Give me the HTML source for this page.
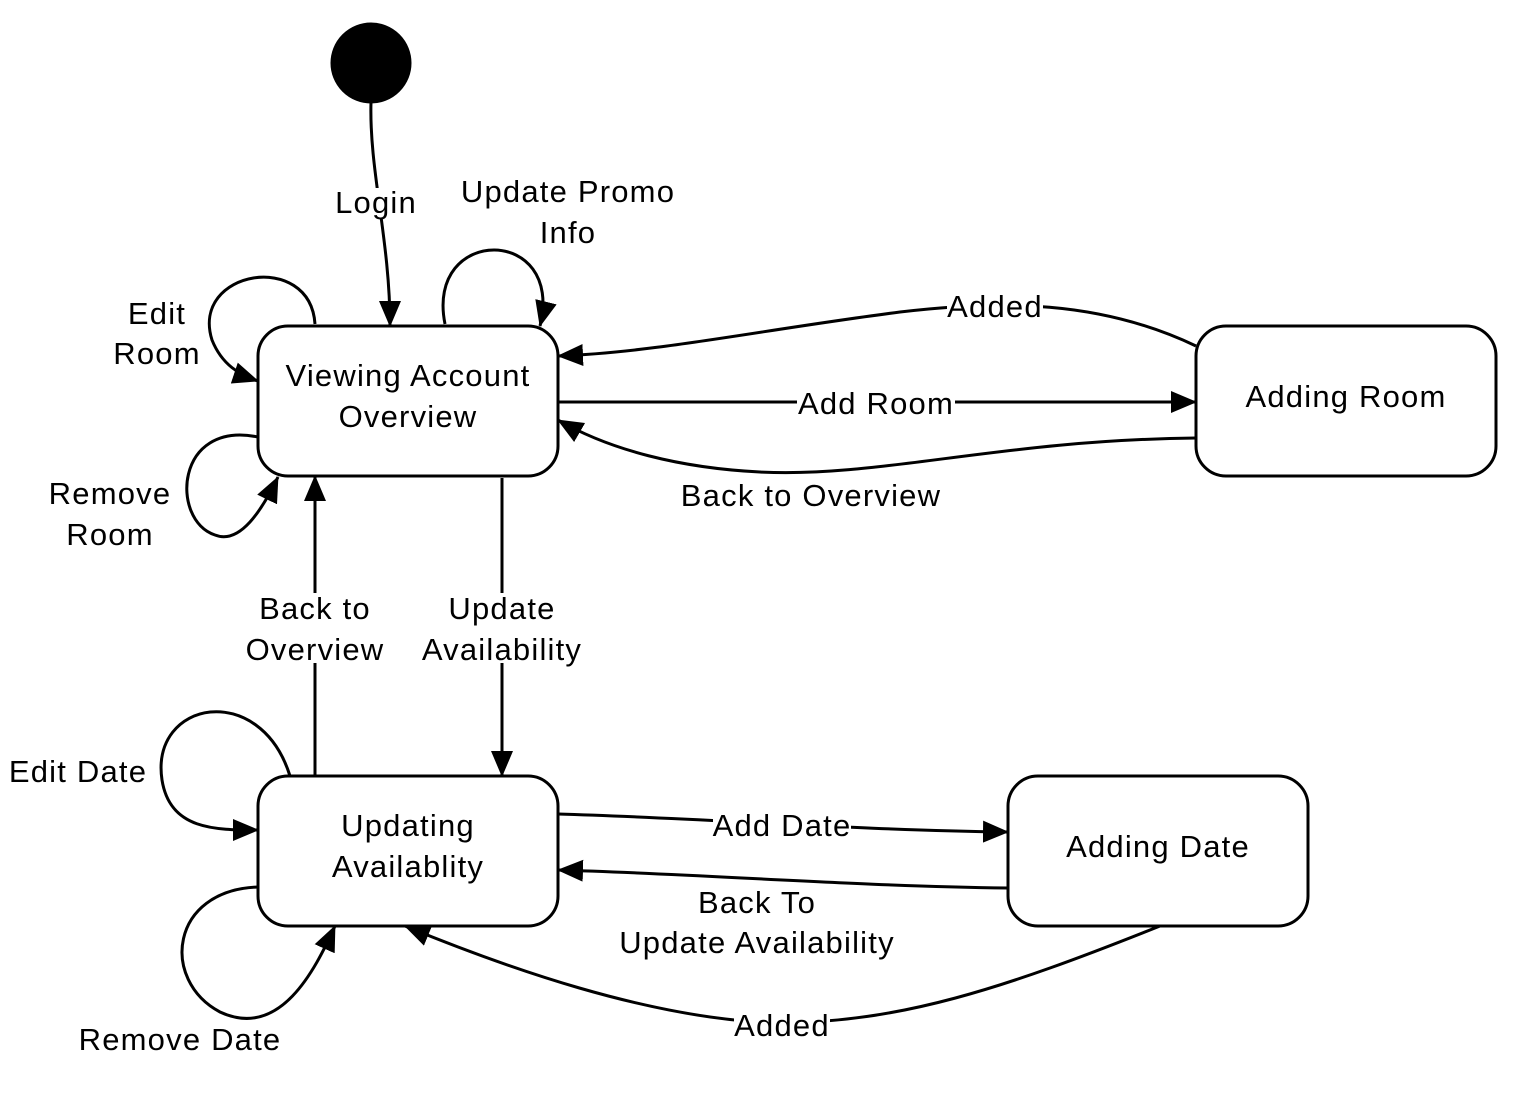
<!DOCTYPE html>
<html><head><style>
html,body{margin:0;padding:0;background:#fff;}
svg text{font-family:"Liberation Sans",sans-serif;font-size:31px;letter-spacing:1.2px;fill:#000;}
</style></head><body>
<svg width="1530" height="1095" viewBox="0 0 1530 1095" xmlns="http://www.w3.org/2000/svg">
<defs>
<marker id="a" markerUnits="userSpaceOnUse" markerWidth="26" markerHeight="22" refX="25" refY="11" orient="auto">
<path d="M0,0 L26,11 L0,22 Z" fill="#000"/>
</marker>
</defs>
<g fill="none" stroke="#000" stroke-width="3">
<circle cx="371" cy="63" r="39" fill="#000"/>
<rect x="258" y="326" width="300" height="150" rx="30" fill="#fff"/>
<rect x="1196" y="326" width="300" height="150" rx="30" fill="#fff"/>
<rect x="258" y="776" width="300" height="150" rx="30" fill="#fff"/>
<rect x="1008" y="776" width="300" height="150" rx="30" fill="#fff"/>

<path d="M371,102 C369,170 390,240 390,326" marker-end="url(#a)"/>
<path d="M445,324 C425,225 565,225 540,326" marker-end="url(#a)"/>
<path d="M315,324 C310,250 190,270 212,340 C222,365 240,375 258,381" marker-end="url(#a)"/>
<path d="M258,437 C175,420 170,520 215,535 C240,545 262,510 278,477" marker-end="url(#a)"/>
<path d="M1196,346 C1100,300 1000,300 900,312 C760,330 660,352 558,356" marker-end="url(#a)"/>
<path d="M558,402 L1196,402" marker-end="url(#a)"/>
<path d="M1196,438 C1000,440 880,478 760,472 C680,468 610,450 558,420" marker-end="url(#a)"/>
<path d="M315,776 L315,476" marker-end="url(#a)"/>
<path d="M502,478 L502,776" marker-end="url(#a)"/>
<path d="M290,776 C260,680 150,700 162,780 C170,830 215,830 258,830" marker-end="url(#a)"/>
<path d="M258,887 C170,890 160,980 220,1012 C280,1040 315,970 335,926" marker-end="url(#a)"/>
<path d="M558,814 C700,818 850,830 1008,832" marker-end="url(#a)"/>
<path d="M1008,888 C850,886 700,874 558,870" marker-end="url(#a)"/>
<path d="M1160,926 C1000,990 900,1022 780,1023 C650,1020 500,965 405,926" marker-end="url(#a)"/>
</g>
<g fill="#fff">
<rect x="336" y="188" width="80" height="30"/>
<rect x="947" y="291" width="96" height="30"/>
<rect x="797" y="388" width="158" height="30"/>
<rect x="244" y="593" width="142" height="70"/>
<rect x="423" y="593" width="158" height="70"/>
<rect x="713" y="810" width="138" height="30"/>
<rect x="734" y="1010" width="96" height="30"/>
</g>
<g text-anchor="middle">
<text x="376" y="213">Login</text>
<text x="568" y="202">Update Promo</text>
<text x="568" y="243">Info</text>
<text x="157" y="324">Edit</text>
<text x="157" y="364">Room</text>
<text x="110" y="504">Remove</text>
<text x="110" y="545">Room</text>
<text x="408" y="386">Viewing Account</text>
<text x="408" y="427">Overview</text>
<text x="1346" y="407">Adding Room</text>
<text x="995" y="317">Added</text>
<text x="876" y="414">Add Room</text>
<text x="811" y="506">Back to Overview</text>
<text x="315" y="619">Back to</text>
<text x="315" y="660">Overview</text>
<text x="502" y="619">Update</text>
<text x="502" y="660">Availability</text>
<text x="78" y="782">Edit Date</text>
<text x="180" y="1050">Remove Date</text>
<text x="408" y="836">Updating</text>
<text x="408" y="877">Availablity</text>
<text x="1158" y="857">Adding Date</text>
<text x="782" y="836">Add Date</text>
<text x="757" y="913">Back To</text>
<text x="757" y="953">Update Availability</text>
<text x="782" y="1036">Added</text>
</g>
</svg>
</body></html>
